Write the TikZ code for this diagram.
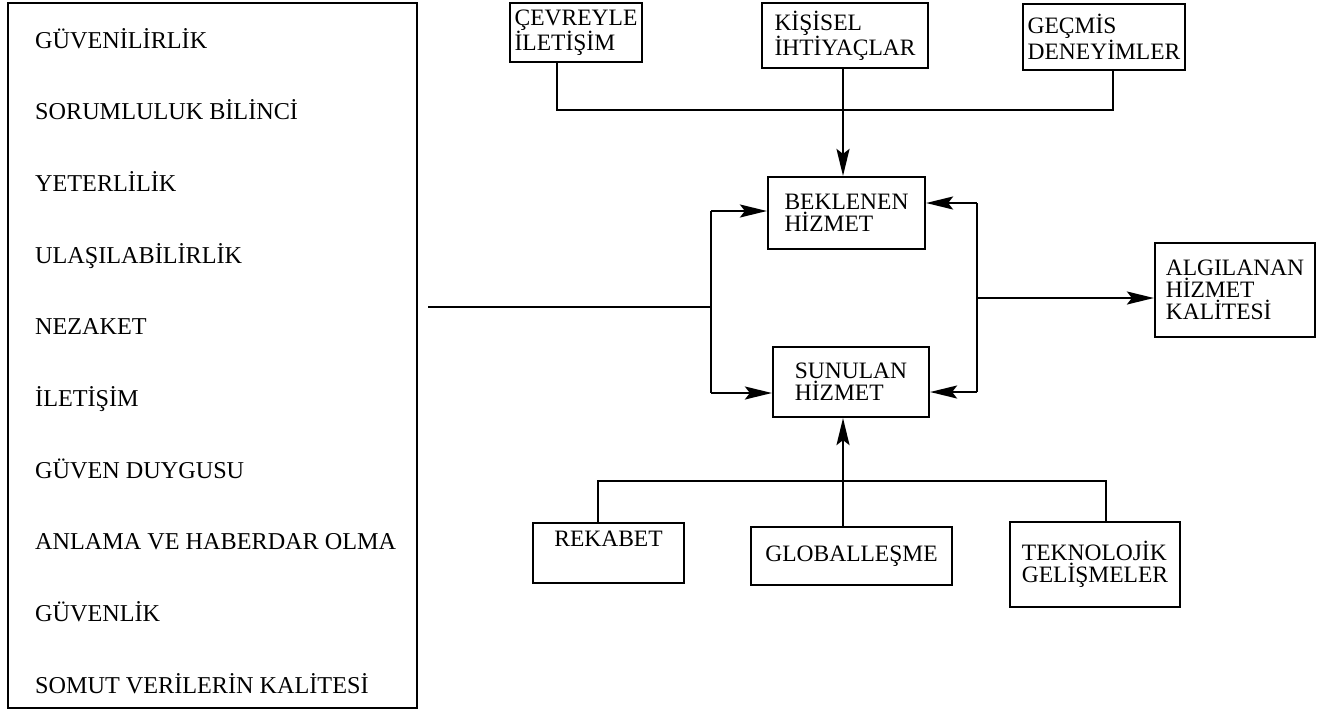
\documentclass[tikz,border=0pt]{standalone}
\usepackage{fontspec}
\setmainfont{Liberation Serif}
\usetikzlibrary{arrows.meta}
\begin{document}
\begin{tikzpicture}[x=1pt,y=-1pt,
  every node/.style={font=\fontsize{23.5}{22}\selectfont},
  box/.style={draw, line width=2.2pt, align=left, inner sep=0pt},
  conn/.style={line width=2.2pt},
  arr/.style={conn, -{Stealth[length=27pt,width=13pt,inset=5pt]}},
  item/.style={anchor=base west, inner sep=0pt, font=\fontsize{24.2}{24}\selectfont}]
\useasboundingbox (0,0) rectangle (1335,713);
% left list box
\node[box, minimum width=409pt, minimum height=705pt] (lb) at (212.5,355.5) {};
\foreach \t [count=\i from 0] in {GÜVENİLİRLİK, SORUMLULUK BİLİNCİ, YETERLİLİK, ULAŞILABİLİRLİK, NEZAKET, İLETİŞİM, GÜVEN DUYGUSU, ANLAMA VE HABERDAR OLMA, GÜVENLİK, SOMUT VERİLERİN KALİTESİ}
  \node[item] (it\i) at (35,{48+71.7*\i}) {\t};
% top boxes
\node[box, minimum width=132pt, minimum height=59pt] (cev) at (576,32.5) {ÇEVREYLE\\İLETİŞİM};
\node[box, minimum width=166pt, minimum height=65pt] (kis) at (845,35.5) {KİŞİSEL\\İHTİYAÇLAR};
\node[box, minimum width=162pt, minimum height=66pt] (gec) at (1104,37) {GEÇMİS\\DENEYİMLER};
% middle boxes
\node[box, minimum width=157pt, minimum height=72pt] (bek) at (846.5,213) {BEKLENEN\\HİZMET};
\node[box, minimum width=156pt, minimum height=70pt] (sun) at (851,382) {SUNULAN\\HİZMET};
\node[box, minimum width=160pt, minimum height=94pt] (alg) at (1235,290) {ALGILANAN\\HİZMET\\KALİTESİ};
% bottom boxes
\node[box, minimum width=151pt, minimum height=60pt] (rek) at (608.5,553) {REKABET\hspace{10pt}\\\strut};
\node[box, minimum width=201pt, minimum height=58pt] (glo) at (851.5,556) {GLOBALLEŞME};
\node[box, minimum width=170pt, minimum height=85pt] (tek) at (1095,564.5) {TEKNOLOJİK\\GELİŞMELER};
% junction coordinates
\coordinate (ta) at (557,110);
\coordinate (tb) at (1113,110);
\coordinate (kx) at (843,110);
\coordinate (l0) at (428,307);
\coordinate (lt) at (711,211);
\coordinate (lm) at (711,307);
\coordinate (lbt) at (711,393);
\coordinate (rt) at (977,203);
\coordinate (rm) at (977,298);
\coordinate (rb) at (977,392);
\coordinate (ba) at (598,481);
\coordinate (bb) at (1106,481);
\coordinate (gx) at (843,481);
% top connectors
\draw[conn] (cev.south -| ta) -- (ta) -- (tb) -- (gec.south -| tb);
\draw[arr] (kis.south -| kx) -- (bek.north -| kx);
% left bracket
\draw[conn] (l0) -- (lm);
\draw[conn] (lt) -- (lbt);
\draw[arr] (lt) -- (lt -| bek.west);
\draw[arr] (lbt) -- (lbt -| sun.west);
% right bracket
\draw[conn] (rt) -- (rb);
\draw[arr] (rt) -- (rt -| bek.east);
\draw[arr] (rb) -- (rb -| sun.east);
\draw[arr] (rm) -- (rm -| alg.west);
% bottom connectors
\draw[conn] (rek.north -| ba) -- (ba) -- (bb) -- (tek.north -| bb);
\draw[arr] (glo.north -| gx) -- (sun.south -| gx);
\end{tikzpicture}
\end{document}
